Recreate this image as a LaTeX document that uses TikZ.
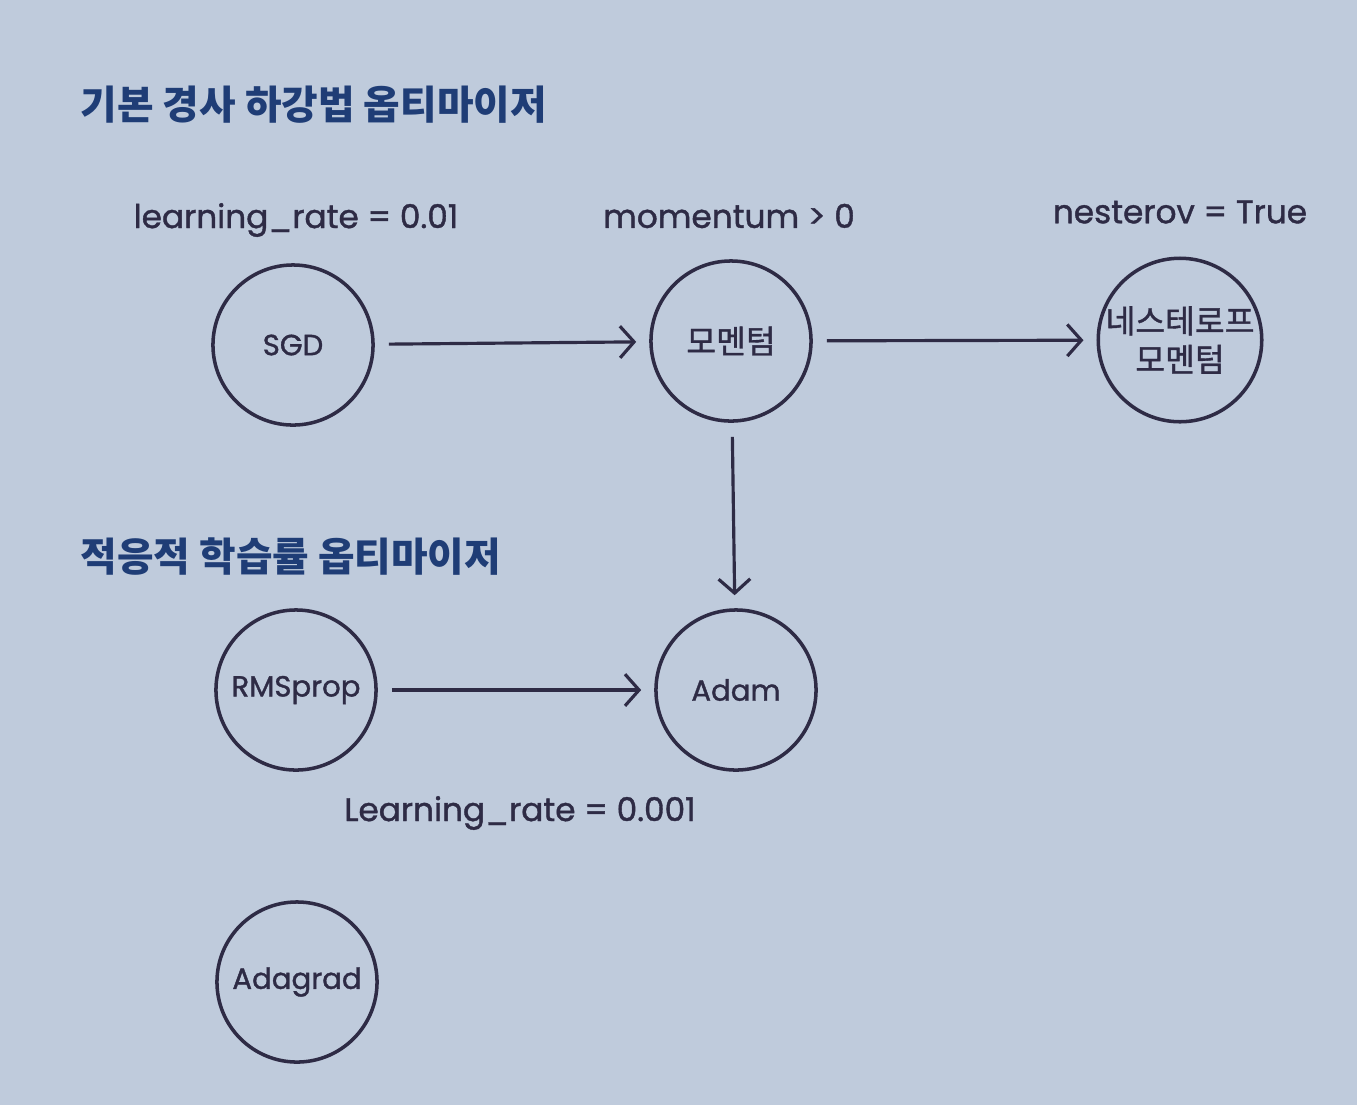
\documentclass[tikz,border=0pt]{standalone}
\usepackage{fontspec}
\setmainfont{Poppins}[FakeBold=1.2]
\newfontfamily\kr{Noto Sans CJK KR}[FakeBold=1.2]
\newfontfamily\krhead{Noto Sans CJK KR}
\usetikzlibrary{arrows.meta}
\definecolor{bg}{HTML}{BFCBDC}
\definecolor{ink}{HTML}{2E2B45}
\definecolor{headc}{HTML}{1F3D76}
\begin{document}
\begin{tikzpicture}[x=0.01cm,y=-0.01cm,
  opt/.style={circle,draw=ink,line width=1pt,minimum size=1.6cm,inner sep=0pt,text=ink,align=center,font=\fontsize{8.3}{10}\selectfont},
  krn/.style={font=\kr\fontsize{9.2}{11}\selectfont},
  lbl/.style={text=ink,font=\fontsize{9.3}{10}\selectfont},
  heading/.style={text=headc,anchor=west,inner sep=0pt,font=\krhead\bfseries\fontsize{11.3}{13}\selectfont},
  arr/.style={-{Straight Barb[length=4pt,width=9pt]},draw=ink,line width=0.9pt,shorten >=0.13cm,shorten <=0.14cm}]
\fill[bg] (0,0) rectangle (1357,1105);
\useasboundingbox (0,0) rectangle (1357,1105);

\node[heading] (h1) at (80,105) {기본 경사 하강법 옵티마이저};
\node[heading] (h2) at (80,557) {적응적 학습률 옵티마이저};

\node[lbl] (l1) at (296,220) {learning\_rate = 0.01};
\node[lbl] (l2) at (729,216) {momentum > 0};
\node[lbl] (l3) at (1180,212) {nesterov = True};
\node[lbl] (l4) at (520,813) {Learning\_rate = 0.001};

\node[opt] (sgd) at (293,345) {SGD};
\node[opt,krn] (mom) at (731,341) {모멘텀};
\node[opt,krn] (nes) at (1180,340) {네스테로프\\모멘텀};
\node[opt] (rms) at (296,690) {RMSprop};
\node[opt] (adam) at (736,690) {Adam};
\node[opt] (ada) at (297,982) {Adagrad};

\draw[arr] (sgd) -- (mom);
\draw[arr] (mom) -- (nes);
\draw[arr] (mom) -- (adam);
\draw[arr] (rms) -- (adam);
\end{tikzpicture}
\end{document}
